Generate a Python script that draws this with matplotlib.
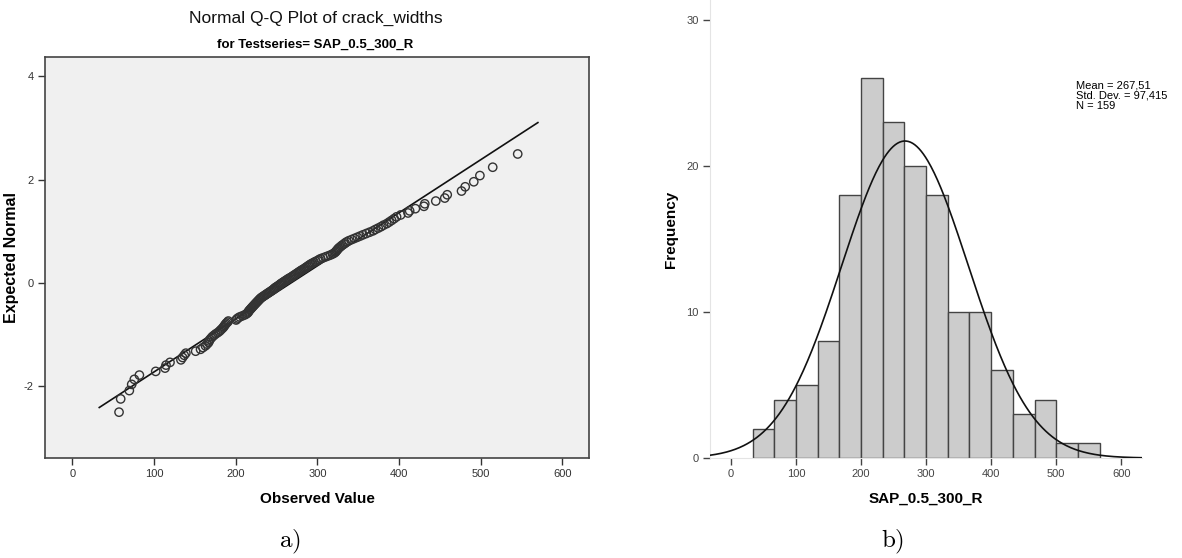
from statistics import NormalDist

import numpy as np
import matplotlib
matplotlib.use("Agg")
import matplotlib.pyplot as plt

plt.rcParams['font.family'] = ['Liberation Sans', 'DejaVu Sans']
plt.rcParams['mathtext.fontset'] = 'cm'
plt.rcParams['axes.unicode_minus'] = False

# sorted crack widths of test series SAP_0.5_300_R
observed = [
    57.2, 59.2, 69.8, 72.7, 75.9, 82.1,
    102.1, 113.5, 114.7, 119.6, 133.0,
    135, 137, 139, 151, 157, 160, 163, 165,
    166.8, 167.5, 168.5, 170, 171.5, 173.5, 175.5, 178, 180, 181.5, 183, 184.5,
    185.5, 186.5, 187.5, 188.5, 190, 191,
    200.5, 201.5, 203, 205, 208, 211, 213, 214.5, 215.5, 216, 217, 218, 219,
    220, 221, 222, 223, 224, 225, 226, 227, 228, 229, 230, 231, 232.5,
    234, 235.5, 237, 238.5, 240, 241.5, 243, 244.5, 246, 247, 248, 249.5,
    251, 252.5, 254, 255, 256.5, 258, 259.5, 261, 262.5, 264, 265.5,
    267.5, 269, 270.5, 272, 273.5, 275, 276.5, 278, 279.5, 281,
    283, 284.5, 286, 287.5, 289, 290.5, 292, 294, 296, 298,
    300.5, 302, 304, 307, 310, 313, 316, 318.5, 320.5,
    322, 323, 324, 325, 326, 327.5, 329, 330.5, 332.5,
    334, 336, 338.5, 342, 345.5, 349, 352.5, 356, 360, 364,
    368, 371, 374.5, 378, 381, 385, 388, 391, 394, 397,
    402, 411, 413, 420, 430.5, 431.5,
    445, 456, 459,
    476.5, 481, 491.5, 499,
    514.7, 545.3,
]

# histogram classes (width 100/3) and their frequencies
bin_start = 100 / 3
bin_width = 100 / 3
counts = [2, 4, 5, 8, 18, 26, 23, 20, 18, 10, 10, 6, 3, 4, 1, 1]

mean = 267.51
std_dev = 97.415
n_total = 159
line_span = (33, 570)

fig = plt.figure(figsize=(11.82, 5.58), dpi=100)

# ---------------- a) normal Q-Q plot ----------------
ax1 = fig.add_axes([0.0381, 0.1787, 0.4605, 0.7197])
ax1.set_facecolor('#f0f0f0')

n = len(observed)
ranks = np.arange(1, n + 1)
expected = [NormalDist().inv_cdf(r / (n + 1)) for r in ranks]

lx = np.array(line_span)
ax1.plot(lx, (lx - mean) / std_dev, color='#111111', lw=1.2, zorder=2)
ax1.scatter(observed, expected, s=36, facecolors='none', edgecolors='#333333',
            linewidths=1.0, zorder=3)

ax1.set_xlim(-33.4, 633)
ax1.set_ylim(-3.39, 4.38)
ax1.set_xticks([0, 100, 200, 300, 400, 500, 600])
ax1.set_yticks([-2, 0, 2, 4])
for s in ax1.spines.values():
    s.set_color('#444444')
    s.set_linewidth(1.2)
ax1.tick_params(direction='out', length=5, width=1, color='#333333',
                labelsize=8, labelcolor='#333333', pad=3)

ax1.set_xlabel('Observed Value', fontsize=11, fontweight='bold', labelpad=9)
ax1.set_ylabel('Expected Normal', fontsize=11.5, fontweight='bold')
ax1.yaxis.set_label_coords(-0.048, 0.5)

fig.text(0.267, 1 - 18 / 558, 'Normal Q-Q Plot of crack_widths',
         fontsize=12.5, ha='center', va='center', color='#111111')
fig.text(0.267, 1 - 45 / 558, 'for Testseries= SAP_0.5_300_R',
         fontsize=9.5, fontweight='bold', ha='center', va='center')
fig.text(0.245, 1 - 542 / 558, r'$\mathrm{a)}$', fontsize=18,
         ha='center', va='center')

# ---------------- b) histogram with normal curve ----------------
ax2 = fig.add_axes([0.6007, 0.1792, 0.3655, 0.8208])
ax2.set_facecolor('white')

lefts = bin_start + bin_width * np.arange(len(counts))
ax2.bar(lefts, counts, width=bin_width, align='edge', color='#cccccc',
        edgecolor='#444444', linewidth=1.0, zorder=2)

xs = np.linspace(-32, 632, 400)
pdf = np.exp(-0.5 * ((xs - mean) / std_dev) ** 2) / (std_dev * np.sqrt(2 * np.pi))
ax2.plot(xs, n_total * bin_width * pdf, color='#111111', lw=1.2, zorder=3)

ax2.set_xlim(-32.3, 632)
ax2.set_ylim(0, 31.36)
ax2.set_xticks([0, 100, 200, 300, 400, 500, 600])
ax2.set_yticks([0, 10, 20, 30])
ax2.spines['top'].set_visible(False)
ax2.spines['right'].set_visible(False)
ax2.spines['left'].set_color('#e4e4e4')
ax2.spines['bottom'].set_color('#e4e4e4')
ax2.tick_params(direction='out', length=5, width=1, color='#444444',
                labelsize=8, labelcolor='#444444', pad=3)

ax2.set_xlabel('SAP_0.5_300_R', fontsize=11, fontweight='bold', labelpad=9)
ax2.set_ylabel('Frequency', fontsize=11, fontweight='bold')
ax2.yaxis.set_label_coords(-0.074, 0.5)

fig.text(1076 / 1182, 1 - 80 / 558,
         'Mean = 267,51\nStd. Dev. = 97,415\nN = 159',
         fontsize=8, ha='left', va='top', linespacing=1.05)
fig.text(893 / 1182, 1 - 542 / 558, r'$\mathrm{b)}$', fontsize=18,
         ha='center', va='center')

fig.savefig('out.png', dpi=100)
